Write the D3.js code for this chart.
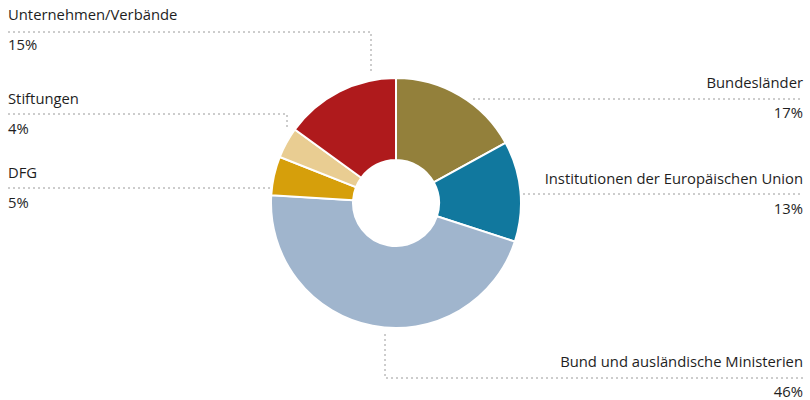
<!DOCTYPE html>
<html>
<head>
<meta charset="utf-8">
<script src="https://cdn.jsdelivr.net/npm/d3@7"></script>
<style>
  html, body { margin: 0; padding: 0; background: #fff; }
  svg { display: block; }
  text { font-family: "Open Sans", Lato, sans-serif; font-size: 14.8px; fill: #1e1e1e; }
</style>
</head>
<body>
<svg id="chart" width="810" height="400"></svg>
<script>
// Funding sources, clockwise from 12 o'clock
const categories = ["Bundesländer", "Institutionen der Europäischen Union", "Bund und ausländische Ministerien", "DFG", "Stiftungen", "Unternehmen/Verbände"];
const shares = [17, 13, 46, 5, 4, 15];
const colors = ["#93803b", "#11789e", "#a0b5cd", "#d69f0b", "#e9cd92", "#af1a1c"];

const svg = d3.select("#chart");
const cx = 396, cy = 203, rOuter = 125, rInner = 43;

const pie = d3.pie().sort(null).value(d => d.value);
const arcs = pie(categories.map((c, i) => ({ name: c, value: shares[i], color: colors[i] })));
const arc = d3.arc().innerRadius(rInner).outerRadius(rOuter);

const g = svg.append("g").attr("transform", `translate(${cx},${cy})`);
g.selectAll("path")
  .data(arcs)
  .join("path")
  .attr("d", arc)
  .attr("fill", d => d.data.color)
  .attr("stroke", "#fff")
  .attr("stroke-width", 2)
  .attr("stroke-linejoin", "miter");

// Label layout: text anchor side, label baseline, leader polyline
const labels = [
  { i: 0, side: "right", x: 803, y: 88,  line: [[473, 99], [803, 99]] },
  { i: 1, side: "right", x: 803, y: 184, line: [[523, 194], [803, 194]] },
  { i: 2, side: "right", x: 803, y: 367, line: [[385, 334], [385, 378], [803, 378]] },
  { i: 3, side: "left",  x: 8,   y: 178, line: [[8, 188], [272, 188]] },
  { i: 4, side: "left",  x: 8,   y: 104, line: [[8, 114], [287, 114], [287, 130]] },
  { i: 5, side: "left",  x: 8,   y: 20,  line: [[8, 32], [371, 32], [371, 72]] }
];

const lineGen = d3.line();
const lg = svg.append("g");
labels.forEach(l => {
  lg.append("path")
    .attr("d", lineGen(l.line))
    .attr("fill", "none")
    .attr("stroke", "#9a9a9a")
    .attr("stroke-width", 1)
    .attr("stroke-dasharray", "2,3");
  const anchor = l.side === "right" ? "end" : "start";
  lg.append("text")
    .attr("x", l.x).attr("y", l.y)
    .attr("text-anchor", anchor)
    .text(categories[l.i]);
  lg.append("text")
    .attr("x", l.x).attr("y", l.y + 30)
    .attr("text-anchor", anchor)
    .text(shares[l.i] + "%");
});
</script>
</body>
</html>
